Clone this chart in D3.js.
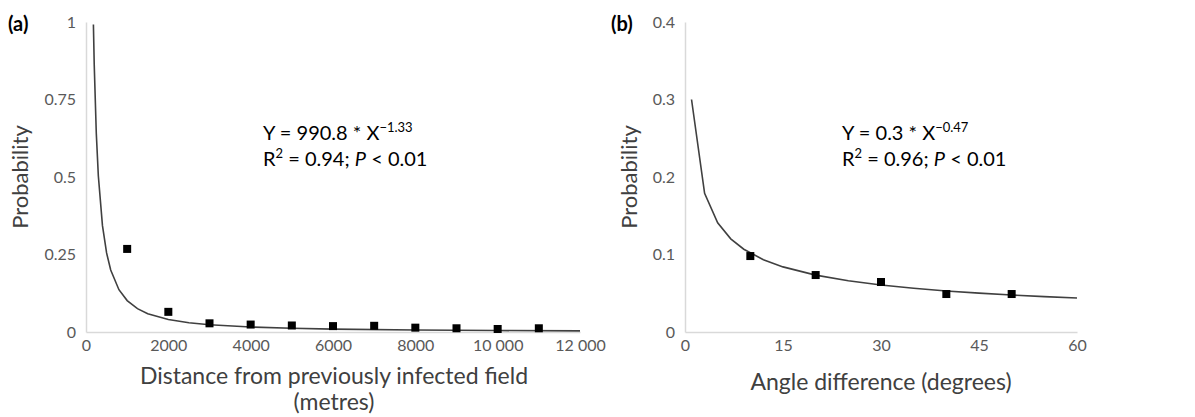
<!DOCTYPE html>
<html><head><meta charset="utf-8">
<script src="https://cdn.jsdelivr.net/npm/d3@7"></script>
<style>body{margin:0;background:#fff}svg{display:block}text{font-family:Lato,"Open Sans",sans-serif}</style>
</head><body><svg id="c" width="1195" height="417"></svg>
<script>
// Panel (a): distance (m) vs probability
const distX = [1000,2000,3000,4000,5000,6000,7000,8000,9000,10000,11000];
const distY = [0.268,0.065,0.028,0.024,0.021,0.019,0.020,0.014,0.012,0.0097,0.012];
const fitAX = [180,200,250,300,400,500,600,800,1000,1250,1500,2000,2500,3000,4000,5000,6000,8000,10000,12000];
const fitAY = [0.992,0.862,0.641,0.503,0.343,0.255,0.200,0.1364,0.1014,0.0754,0.0591,0.0403,0.0300,0.0235,0.0160,0.0119,0.00936,0.00638,0.00474,0.00372];
const ticksAX = [0,2000,4000,6000,8000,10000,12000];
const ticksAXLabels = ["0","2000","4000","6000","8000","10 000","12 000"];
const ticksAY = [0,0.25,0.5,0.75,1];
const ticksAYLabels = ["0","0.25","0.5","0.75","1"];
// Panel (b): angle difference vs probability
const angX = [10,20,30,40,50];
const angY = [0.098,0.0735,0.0645,0.049,0.049];
const fitBX = [1,3,5,7,9,12,15,20,25,30,35,40,45,50,55,60];
const fitBY = [0.3,0.179,0.1408,0.1202,0.1068,0.0933,0.0840,0.0734,0.0661,0.0607,0.0564,0.0530,0.0501,0.0477,0.0456,0.0438];
const ticksBX = [0,15,30,45,60];
const ticksBY = [0,0.1,0.2,0.3,0.4];
const ticksBYLabels = ["0","0.1","0.2","0.3","0.4"];

const svg = d3.select("#c");
const axisCol = "#d9d9d9", tickCol = "#595959", textCol = "#404040", lineCol = "#404040";

function panel(o){
  const x = d3.scaleLinear().domain(o.xd).range([o.x0,o.x1]);
  const y = d3.scaleLinear().domain(o.yd).range([o.y0,o.y1]);
  const g = svg.append("g");
  const ax = g.append("g").attr("transform",`translate(0,${o.y0})`)
    .call(d3.axisBottom(x).tickValues(o.xt).tickFormat((d,i)=>o.xtl[i]).tickSize(0).tickPadding(8));
  ax.select(".domain").attr("stroke",axisCol).attr("stroke-width",1.5);
  ax.selectAll("text").attr("fill",tickCol).style("font-size","16px").style("font-family","Lato, sans-serif");
  const ay = g.append("g").attr("transform",`translate(${o.x0},0)`)
    .call(d3.axisLeft(y).tickValues(o.yt).tickFormat((d,i)=>o.ytl[i]).tickSize(0).tickPadding(o.ypad));
  ay.select(".domain").attr("stroke",axisCol).attr("stroke-width",1.5);
  ay.selectAll("text").attr("fill",tickCol).style("font-size","16px").style("font-family","Lato, sans-serif");
  const line = d3.line().x(d=>x(d[0])).y(d=>y(d[1]));
  g.append("path").datum(o.fx.map((v,i)=>[v,o.fy[i]]))
    .attr("d",line).attr("fill","none").attr("stroke",lineCol).attr("stroke-width",1.6);
  g.selectAll("rect.pt").data(o.px.map((v,i)=>[v,o.py[i]])).enter().append("rect")
    .attr("x",d=>x(d[0])-4).attr("y",d=>y(d[1])-4).attr("width",8).attr("height",8).attr("fill","#000");
  g.append("text").attr("transform",`translate(${o.ytx},${(o.y0+o.y1)/2}) rotate(-90)`)
    .attr("text-anchor","middle").attr("dominant-baseline","central").attr("fill",textCol)
    .style("font-size","22px").text("Probability");
  g.append("text").attr("x",o.lx).attr("y",31).attr("fill","#000").style("font-size","20px").style("font-weight","bold").text(o.label);
  const e1 = g.append("text").attr("x",o.ex).attr("y",140).attr("fill","#000").style("font-size","20px");
  e1.append("tspan").text(o.eq1);
  e1.append("tspan").attr("dy",-8).style("font-size","13px").text(o.exp);
  const e2 = g.append("text").attr("x",o.ex).attr("y",166).attr("fill","#000").style("font-size","20px");
  e2.append("tspan").text("R");
  e2.append("tspan").attr("dy",-8).style("font-size","13px").text("2");
  e2.append("tspan").attr("dy",8).text(" = "+o.r2+"; ");
  e2.append("tspan").style("font-style","italic").text("P");
  e2.append("tspan").text(" < 0.01");
  return {x,y,g};
}

const A = panel({xd:[0,12000],yd:[0,1],x0:86,x1:580,y0:332,y1:22,xt:ticksAX,xtl:ticksAXLabels,yt:ticksAY,ytl:ticksAYLabels,
  ypad:10,fx:fitAX,fy:fitAY,px:distX,py:distY,ytx:19,lx:8,label:"(a)",ex:263,eq1:"Y = 990.8 * X",exp:"\u22121.33",r2:"0.94"});
A.g.append("text").attr("x",334).attr("y",384).attr("text-anchor","middle").attr("fill",textCol).style("font-size","23px").text("Distance from previously infected field");
A.g.append("text").attr("x",334).attr("y",410).attr("text-anchor","middle").attr("fill",textCol).style("font-size","23px").text("(metres)");

const B = panel({xd:[0,60],yd:[0,0.4],x0:685,x1:1077,y0:332,y1:22,xt:ticksBX,xtl:ticksBX.map(String),yt:ticksBY,ytl:ticksBYLabels,
  ypad:10,fx:fitBX,fy:fitBY,px:angX,py:angY,ytx:628,lx:611,label:"(b)",ex:842,eq1:"Y = 0.3 * X",exp:"\u22120.47",r2:"0.96"});
B.g.append("text").attr("x",881).attr("y",390).attr("text-anchor","middle").attr("fill",textCol).style("font-size","23px").text("Angle difference (degrees)");
</script></body></html>
